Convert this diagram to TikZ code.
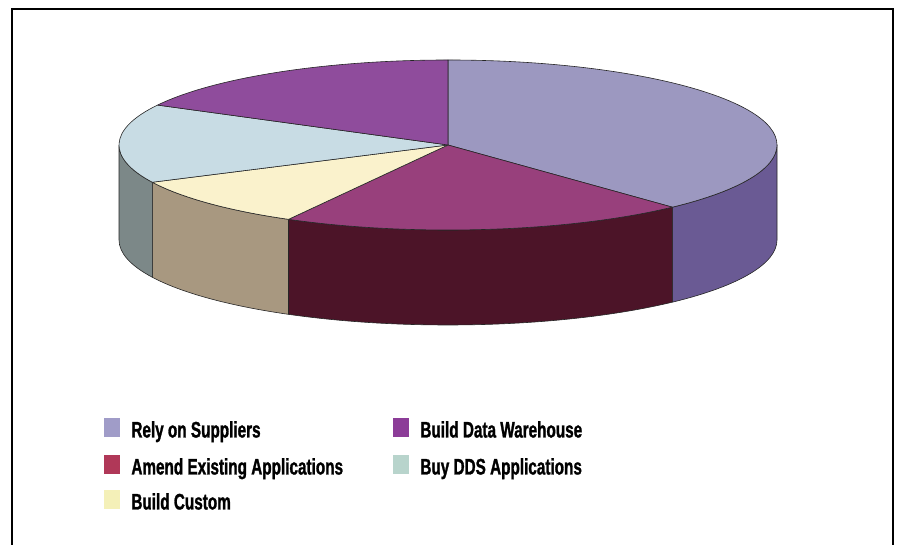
\documentclass[tikz,border=0pt]{standalone}
\usepackage{fontspec}
\newfontfamily\keyfont{Liberation Sans}[FakeStretch=0.68, FakeBold=1.2]
\usetikzlibrary{positioning, calc}

\definecolor{relytop}{HTML}{9C98C0}
\definecolor{relyside}{HTML}{6A5A94}
\definecolor{amendtop}{HTML}{98407C}
\definecolor{amendside}{HTML}{4C1428}
\definecolor{customtop}{HTML}{FAF2CC}
\definecolor{customside}{HTML}{A89880}
\definecolor{ddstop}{HTML}{C8DCE4}
\definecolor{ddsside}{HTML}{7C8888}
\definecolor{dwtop}{HTML}{8F4C9C}
\definecolor{relykey}{HTML}{A09CC8}
\definecolor{amendkey}{HTML}{B03858}
\definecolor{customkey}{HTML}{F4F0B8}
\definecolor{dwkey}{HTML}{8C3C98}
\definecolor{ddskey}{HTML}{B8D4CC}

\tikzset{
  slice/.style    = {draw=black!85, line width=0.6pt, line join=round},
  rim/.style      = {x radius=329, y radius=85},
  swatch/.style   = {rectangle, minimum width=16pt, minimum height=19pt,
                     inner sep=0pt, draw=none},
  keylabel/.style = {inner sep=0pt, anchor=base west,
                     font=\keyfont\bfseries\fontsize{22.5}{26}\selectfont}
}

\begin{document}
\begin{tikzpicture}[x=1pt, y=1pt]
\useasboundingbox (0,0) rectangle (900,545);

% frame
\draw[line width=1.5pt] (12,-5) -- (12,536) -- (893,536) -- (893,-5);

\coordinate (c) at (448,400);

% visible rim of the pie
\filldraw[slice, fill=relyside] (c) ++(0:329 and 85)
    arc[start angle=0, end angle=-47, rim] -- ++(0,-95)
    arc[start angle=-47, end angle=0, rim] -- cycle;
\filldraw[slice, fill=amendside] (c) ++(-47:329 and 85)
    arc[start angle=-47, end angle=-119, rim] -- ++(0,-95)
    arc[start angle=-119, end angle=-47, rim] -- cycle;
\filldraw[slice, fill=customside] (c) ++(-119:329 and 85)
    arc[start angle=-119, end angle=-154, rim] -- ++(0,-95)
    arc[start angle=-154, end angle=-119, rim] -- cycle;
\filldraw[slice, fill=ddsside] (c) ++(-154:329 and 85)
    arc[start angle=-154, end angle=-180, rim] -- ++(0,-95)
    arc[start angle=-180, end angle=-154, rim] -- cycle;

% top of the pie
\filldraw[slice, fill=relytop] (c) -- ++(90:329 and 85)
    arc[start angle=90, end angle=-47, rim] -- cycle;
\filldraw[slice, fill=amendtop] (c) -- ++(-47:329 and 85)
    arc[start angle=-47, end angle=-119, rim] -- cycle;
\filldraw[slice, fill=customtop] (c) -- ++(-119:329 and 85)
    arc[start angle=-119, end angle=-154, rim] -- cycle;
\filldraw[slice, fill=ddstop] (c) -- ++(-154:329 and 85)
    arc[start angle=-154, end angle=-208, rim] -- cycle;
\filldraw[slice, fill=dwtop] (c) -- ++(-208:329 and 85)
    arc[start angle=-208, end angle=-270, rim] -- cycle;

% legend
\node[swatch, fill=relykey] at (112,117) (relysw) {};
\node[keylabel] at ($(relysw.east) + (11pt, -9.5pt)$) (relytx) {Rely on Suppliers};

\node[swatch, fill=amendkey] at (112,80) (amendsw) {};
\node[keylabel] at ($(amendsw.east) + (11pt, -9.5pt)$) (amendtx) {Amend Existing Applications};

\node[swatch, fill=customkey] at (112,45) (customsw) {};
\node[keylabel] at ($(customsw.east) + (11pt, -9.5pt)$) (customtx) {Build Custom};

\node[swatch, fill=dwkey] at (401,117) (dwsw) {};
\node[keylabel] at ($(dwsw.east) + (11pt, -9.5pt)$) (dwtx) {Build Data Warehouse};

\node[swatch, fill=ddskey] at (401,80) (ddssw) {};
\node[keylabel] at ($(ddssw.east) + (11pt, -9.5pt)$) (ddstx) {Buy DDS Applications};

\end{tikzpicture}
\end{document}
